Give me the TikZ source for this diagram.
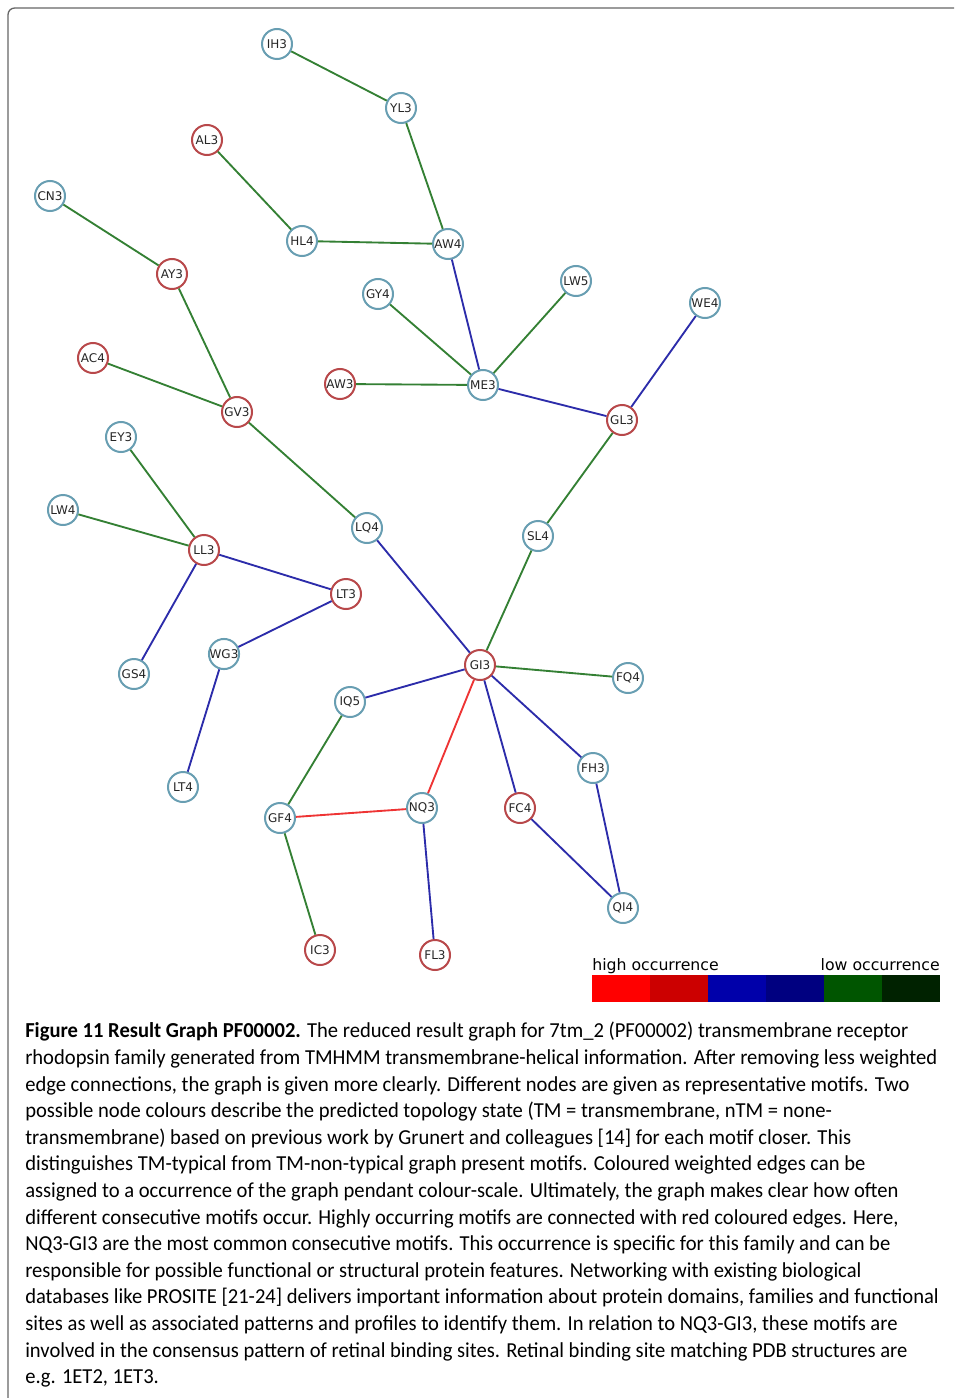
\documentclass[tikz,border=0pt]{standalone}
\usepackage{fontspec}
\setmainfont{Carlito}
\newfontfamily\graphfont{DejaVu Sans}
\usetikzlibrary{calc}
\definecolor{nodeblue}{RGB}{104,158,178}
\definecolor{nodered}{RGB}{184,72,74}
\definecolor{edgegreen}{RGB}{52,128,52}
\definecolor{edgeblue}{RGB}{44,44,170}
\definecolor{edgered}{RGB}{238,52,52}
\definecolor{scaleA}{RGB}{255,0,0}
\definecolor{scaleB}{RGB}{204,0,0}
\definecolor{scaleC}{RGB}{0,0,170}
\definecolor{scaleD}{RGB}{0,0,128}
\definecolor{scaleE}{RGB}{0,85,0}
\definecolor{scaleF}{RGB}{0,34,0}
\tikzset{motif/.style={circle,fill=white,line width=1.5pt,minimum size=22.5pt,inner sep=0pt,font=\graphfont\fontsize{9}{10}\selectfont,text=black!85}}
\tikzset{bluenode/.style={motif,draw=nodeblue}}
\tikzset{rednode/.style={motif,draw=nodered}}
\tikzset{greenline/.style={draw=edgegreen,line width=1.4pt}}
\tikzset{blueline/.style={draw=edgeblue,line width=1.4pt}}
\tikzset{redline/.style={draw=edgered,line width=1.4pt}}

\begin{document}
\begin{tikzpicture}[x=0.75pt,y=-0.75pt]
  \useasboundingbox (0,0) rectangle (954,1398);
  % frame
  \draw[black!60,line width=1pt,rounded corners=5pt] (8,1398) -- (8,8) -- (954,8);

  % motif nodes
  \node[bluenode] (IH3) at (277,44) {IH3};
  \node[bluenode] (YL3) at (401,108) {YL3};
  \node[rednode] (AL3) at (207,140) {AL3};
  \node[bluenode] (CN3) at (50,196) {CN3};
  \node[bluenode] (HL4) at (302,241) {HL4};
  \node[bluenode] (AW4) at (448,244) {AW4};
  \node[rednode] (AY3) at (172,274) {AY3};
  \node[bluenode] (GY4) at (378,294) {GY4};
  \node[bluenode] (LW5) at (576,281) {LW5};
  \node[bluenode] (WE4) at (705,303) {WE4};
  \node[rednode] (AC4) at (93,358) {AC4};
  \node[rednode] (AW3) at (340,384) {AW3};
  \node[bluenode] (ME3) at (483,385) {ME3};
  \node[rednode] (GV3) at (237,412) {GV3};
  \node[rednode] (GL3) at (622,420) {GL3};
  \node[bluenode] (EY3) at (121,437) {EY3};
  \node[bluenode] (LW4) at (63,510) {LW4};
  \node[bluenode] (LQ4) at (367,528) {LQ4};
  \node[bluenode] (SL4) at (538,536) {SL4};
  \node[rednode] (LL3) at (204,550) {LL3};
  \node[rednode] (LT3) at (346,594) {LT3};
  \node[bluenode] (WG3) at (224,654) {WG3};
  \node[bluenode] (GS4) at (134,674) {GS4};
  \node[rednode] (GI3) at (480,665) {GI3};
  \node[bluenode] (FQ4) at (628,678) {FQ4};
  \node[bluenode] (IQ5) at (350,702) {IQ5};
  \node[bluenode] (FH3) at (593,768) {FH3};
  \node[bluenode] (LT4) at (183,787) {LT4};
  \node[bluenode] (GF4) at (280,818) {GF4};
  \node[bluenode] (NQ3) at (422,808) {NQ3};
  \node[rednode] (FC4) at (520,808) {FC4};
  \node[bluenode] (QI4) at (623,908) {QI4};
  \node[rednode] (IC3) at (320,950) {IC3};
  \node[rednode] (FL3) at (435,955) {FL3};

  % weighted edges
  \draw[greenline] (IH3) -- (YL3);
  \draw[greenline] (YL3) -- (AW4);
  \draw[greenline] (AL3) -- (HL4);
  \draw[greenline] (HL4) -- (AW4);
  \draw[blueline] (AW4) -- (ME3);
  \draw[greenline] (CN3) -- (AY3);
  \draw[greenline] (AY3) -- (GV3);
  \draw[greenline] (GY4) -- (ME3);
  \draw[greenline] (LW5) -- (ME3);
  \draw[greenline] (AW3) -- (ME3);
  \draw[blueline] (ME3) -- (GL3);
  \draw[blueline] (WE4) -- (GL3);
  \draw[greenline] (GL3) -- (SL4);
  \draw[greenline] (SL4) -- (GI3);
  \draw[greenline] (AC4) -- (GV3);
  \draw[greenline] (GV3) -- (LQ4);
  \draw[blueline] (LQ4) -- (GI3);
  \draw[greenline] (EY3) -- (LL3);
  \draw[greenline] (LW4) -- (LL3);
  \draw[blueline] (LL3) -- (LT3);
  \draw[blueline] (LL3) -- (GS4);
  \draw[blueline] (LT3) -- (WG3);
  \draw[blueline] (WG3) -- (LT4);
  \draw[greenline] (GI3) -- (FQ4);
  \draw[blueline] (GI3) -- (IQ5);
  \draw[redline] (GI3) -- (NQ3);
  \draw[blueline] (GI3) -- (FC4);
  \draw[blueline] (GI3) -- (FH3);
  \draw[greenline] (IQ5) -- (GF4);
  \draw[redline] (GF4) -- (NQ3);
  \draw[greenline] (GF4) -- (IC3);
  \draw[blueline] (NQ3) -- (FL3);
  \draw[blueline] (FC4) -- (QI4);
  \draw[blueline] (FH3) -- (QI4);

  % colour scale
  \fill[scaleA] (592,975) rectangle (650,1002);
  \fill[scaleB] (650,975) rectangle (708,1002);
  \fill[scaleC] (708,975) rectangle (766,1002);
  \fill[scaleD] (766,975) rectangle (824,1002);
  \fill[scaleE] (824,975) rectangle (882,1002);
  \fill[scaleF] (882,975) rectangle (940,1002);
  \node[anchor=base west,inner sep=0pt,font=\graphfont\fontsize{11.8}{12}\selectfont] (high) at (592,970) {high occurrence};
  \node[anchor=base east,inner sep=0pt,font=\graphfont\fontsize{11.8}{12}\selectfont] (low) at (940,970) {low occurrence};

  % caption
  \begin{scope}[xscale=0.965]
  \node[transform shape,anchor=north west,inner sep=0pt,align=left,font=\fontsize{16}{19.95}\selectfont] (caption) at (25/0.965,1022) {%
    \textbf{Figure 11 Result Graph PF00002.} The reduced result graph for 7tm\_2 (PF00002) transmembrane receptor\\
    rhodopsin family generated from TMHMM transmembrane-helical information. After removing less weighted\\
    edge connections, the graph is given more clearly. Different nodes are given as representative motifs. Two\\
    possible node colours describe the predicted topology state (TM = transmembrane, nTM = none-\\
    transmembrane) based on previous work by Grunert and colleagues [14] for each motif closer. This\\
    distinguishes TM-typical from TM-non-typical graph present motifs. Coloured weighted edges can be\\
    assigned to a occurrence of the graph pendant colour-scale. Ultimately, the graph makes clear how often\\
    different consecutive motifs occur. Highly occurring motifs are connected with red coloured edges. Here,\\
    NQ3-GI3 are the most common consecutive motifs. This occurrence is specific for this family and can be\\
    responsible for possible functional or structural protein features. Networking with existing biological\\
    databases like PROSITE [21-24] delivers important information about protein domains, families and functional\\
    sites as well as associated patterns and profiles to identify them. In relation to NQ3-GI3, these motifs are\\
    involved in the consensus pattern of retinal binding sites. Retinal binding site matching PDB structures are\\
    e.g. 1ET2, 1ET3.};
  \end{scope}
\end{tikzpicture}
\end{document}
